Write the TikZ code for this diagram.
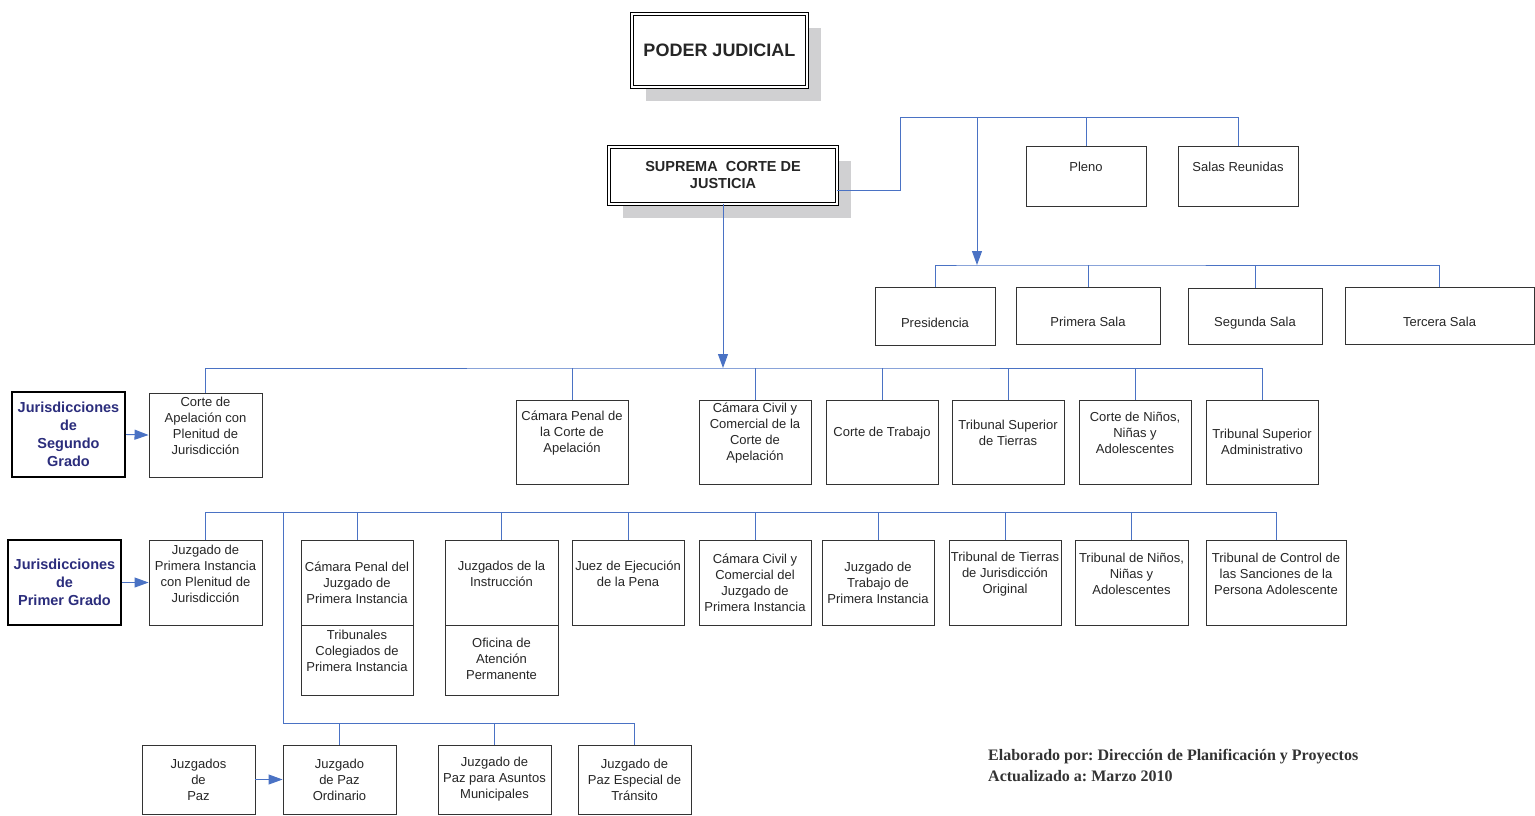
\documentclass[tikz,border=0pt]{standalone}
\usepackage{fontspec}
\setmainfont{Liberation Sans}
\newfontfamily\notefont{Liberation Serif}
\frenchspacing
\usetikzlibrary{arrows.meta,shadows}
\definecolor{linkblue}{RGB}{74,114,196}
\definecolor{navy}{RGB}{43,45,124}
\definecolor{shadegray}{RGB}{208,208,210}
\tikzset{box/.style={rectangle, draw=black!80, line width=.9pt, fill=white, minimum width=113, minimum height=85, inner sep=0pt}}
\tikzset{lbl/.style={align=center, font=\fontsize{13}{16}\selectfont, text=black!85}}
\tikzset{head/.style={rectangle, draw=black, double, double distance=2.2pt, line width=.8pt, fill=white, text=black!85,
 drop shadow={shadow xshift=14pt, shadow yshift=-14pt, fill=shadegray, opacity=1}}}
\tikzset{grado/.style={box, line width=2pt, draw=black, align=center, text=navy, font=\bfseries\fontsize{14.5}{18}\selectfont}}
\tikzset{line/.style={draw=linkblue, line width=.95pt}}
\tikzset{arr/.style={-{Triangle[length=14pt,width=10pt]}}}
\begin{document}
\begin{tikzpicture}[x=1pt, y=-1pt]
\useasboundingbox (0,0) rectangle (1535,815);
% cabecera
\node[head, minimum width=175, minimum height=73, font=\bfseries\fontsize{18}{22}\selectfont] (pj) at (719.5,50.5) {PODER JUDICIAL};
\node[head, minimum width=228, minimum height=57, align=center, font=\bfseries\fontsize{14.5}{17}\selectfont] (scj) at (723,175.5) {SUPREMA\ \ CORTE DE\\JUSTICIA};
\node[box, minimum width=120, minimum height=60, label={[lbl,yshift=9]center:Pleno}] (pleno) at (1086,176) {};
\node[box, minimum width=120, minimum height=60, label={[lbl,yshift=9]center:Salas Reunidas}] (sr) at (1238,176) {};
\node[box, minimum width=120, minimum height=58, label={[lbl,yshift=-7]center:Presidencia}] (pres) at (935,316) {};
\node[box, minimum width=144, minimum height=57, label={[lbl,yshift=-6.5]center:Primera Sala}] (pri) at (1088,315.5) {};
\node[box, minimum width=134, minimum height=56, label={[lbl,yshift=-7]center:Segunda Sala}] (seg) at (1255,316) {};
\node[box, minimum width=189, minimum height=57, label={[lbl,yshift=-6.5]center:Tercera Sala}] (ter) at (1439.5,315.5) {};
% segundo grado
\node[grado, minimum height=85] (jsg) at (68.5,434.5) {Jurisdicciones\\de\\Segundo\\Grado};
\node[box, minimum height=84, label={[lbl,yshift=9]center:{Corte de\\Apelación con\\Plenitud de\\Jurisdicción}}] (cap) at (205.5,435) {};
\node[box, minimum width=112, minimum height=84, label={[lbl,yshift=9]center:{Cámara Penal de\\la Corte de\\Apelación}}] (cpca) at (572,442) {};
\node[box, minimum width=112, minimum height=84, label={[lbl,yshift=9]center:{Cámara Civil y\\Comercial de la\\Corte de\\Apelación}}] (ccca) at (755,442) {};
\node[box, minimum width=112, minimum height=84, label={[lbl,yshift=9]center:{Corte de Trabajo}}] (ct) at (882,442) {};
\node[box, minimum width=112, minimum height=84, label={[lbl,yshift=9]center:{Tribunal Superior\\de Tierras}}] (tst) at (1008,442) {};
\node[box, minimum width=112, minimum height=84, label={[lbl,yshift=9]center:{Corte de Niños,\\Niñas y\\Adolescentes}}] (cnna) at (1135,442) {};
\node[box, minimum width=112, minimum height=84, label={[lbl]center:{Tribunal Superior\\Administrativo}}] (tsa) at (1262,442) {};
% primer grado
\node[grado] (jpg) at (64.5,582.5) {Jurisdicciones\\de\\Primer Grado};
\node[box, label={[lbl,yshift=8.5]center:{Juzgado de\\Primera Instancia\\con Plenitud de\\Jurisdicción}}] (jpi) at (205.5,582.5) {};
\node[box, minimum width=112, label={[lbl]center:{Cámara Penal del\\Juzgado de\\Primera Instancia}}] (cpji) at (357,582.5) {};
\node[box, minimum width=112, minimum height=70, label={[lbl,yshift=9]center:{Tribunales\\Colegiados de\\Primera Instancia}}] (tcpi) at (357,660) {};
\node[box, label={[lbl,yshift=8.5]center:{Juzgados de la\\Instrucción}}] (ji) at (501.5,582.5) {};
\node[box, minimum height=70, label={[lbl,yshift=1]center:{Oficina de\\Atención\\Permanente}}] (oap) at (501.5,660) {};
\node[box, minimum width=112, label={[lbl,yshift=8.5]center:{Juez de Ejecución\\de la Pena}}] (jep) at (628,582.5) {};
\node[box, minimum width=112, label={[lbl]center:{Cámara Civil y\\Comercial del\\Juzgado de\\Primera Instancia}}] (ccji) at (755,582.5) {};
\node[box, minimum width=112, label={[lbl]center:{Juzgado de\\Trabajo de\\Primera Instancia}}] (jtpi) at (878,582.5) {};
\node[box, minimum width=112, label={[lbl,yshift=8.5]center:{Tribunal de Tierras\\de Jurisdicción\\Original}}] (ttjo) at (1005,582.5) {};
\node[box, label={[lbl,yshift=8.5]center:{Tribunal de Niños,\\Niñas y\\Adolescentes}}] (tnna) at (1131.5,582.5) {};
\node[box, minimum width=140, label={[lbl,yshift=8.5]center:{Tribunal de Control de\\las Sanciones de la\\Persona Adolescente}}] (tcsa) at (1276,582.5) {};
% paz
\node[box, minimum height=69, label={[lbl]center:{Juzgados\\de\\Paz}}] (jp) at (198.5,779.5) {};
\node[box, minimum height=69, label={[lbl]center:{Juzgado\\de Paz\\Ordinario}}] (jpo) at (339.5,779.5) {};
\node[box, minimum height=69, label={[lbl]center:{Juzgado de\\Paz para Asuntos\\Municipales}}] (jpam) at (494.5,779.5) {};
\node[box, minimum height=69, label={[lbl]center:{Juzgado de\\Paz Especial de\\Tránsito}}] (jpet) at (634.5,779.5) {};
\node[anchor=west, align=left, inner sep=0pt, text=black!80, font=\notefont\bfseries\fontsize{16}{21}\selectfont] (note) at (988,765.5)
 {Elaborado por: Dirección de Planificación y Proyectos\\Actualizado a: Marzo 2010};
% conectores
\coordinate (bus0) at (900,117);
\coordinate (bus1) at (977,265);
\coordinate (bus2) at (723,368);
\coordinate (bus3) at (283,512);
\coordinate (bus4) at (283,723);
\path[line] (scj.east |- 0,190) -| (bus0) -| (sr.north);
\path[line] (pleno.north) -- (pleno.north |- bus0);
\path[line, arr] (bus1 |- bus0) -- (bus1);
\path[line] (pres.north) |- (bus1) -| (ter.north);
\foreach \n in {pri,seg} \path[line] (\n.north) -- (\n.north |- bus1);
\path[line, arr] (scj.south) -- (bus2);
\path[line] (cap.north) |- (bus2) -| (tsa.north);
\foreach \n in {cpca,ccca,ct,tst,cnna} \path[line] (\n.north) -- (\n.north |- bus2);
\path[line] (jpi.north) |- (bus3) -| (tcsa.north);
\foreach \n in {cpji,ji,jep,ccji,jtpi,ttjo,tnna} \path[line] (\n.north) -- (\n.north |- bus3);
\path[line] (bus3) -- (bus4) -| (jpet.north);
\foreach \n in {jpo,jpam} \path[line] (\n.north) -- (\n.north |- bus4);
\path[line, arr] (jsg.east) -- (cap.west);
\path[line, arr] (jpg.east) -- (jpi.west);
\path[line, arr] (jp.east) -- (jpo.west);
\end{tikzpicture}
\end{document}
